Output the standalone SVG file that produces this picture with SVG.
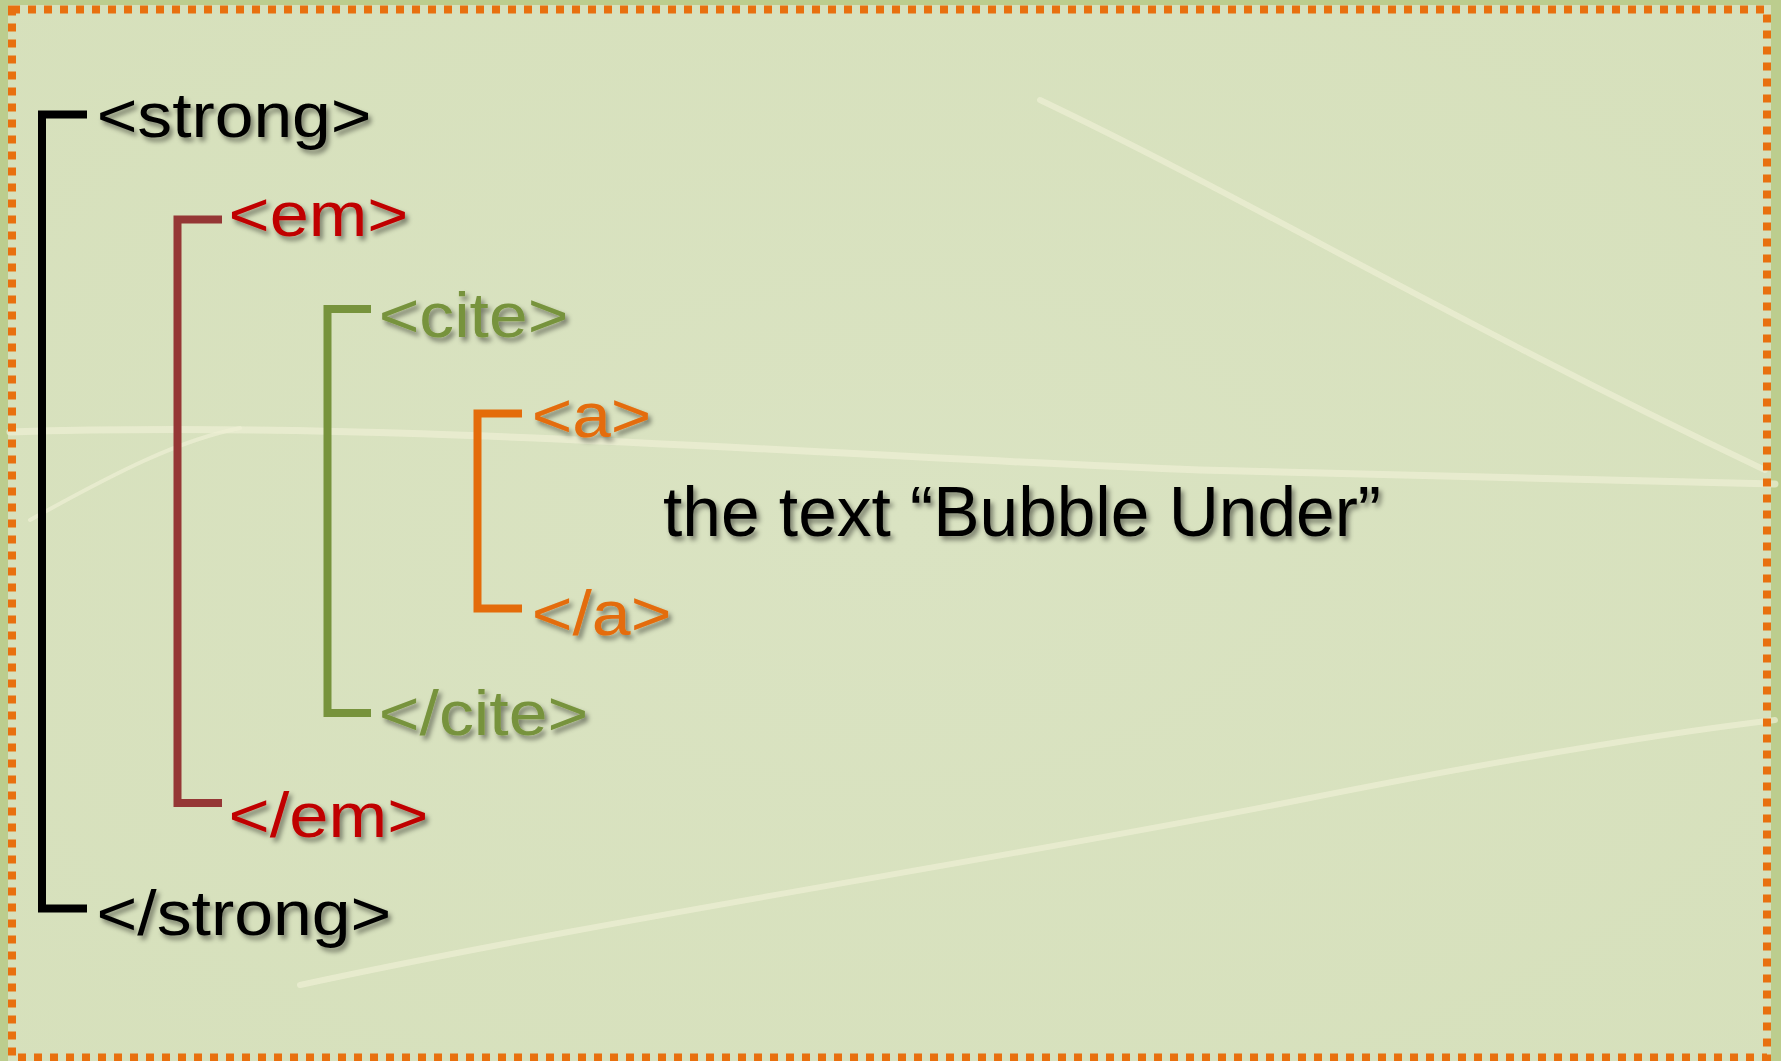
<svg xmlns="http://www.w3.org/2000/svg" width="1781" height="1061" viewBox="0 0 1781 1061">
<defs>
<filter id="sh" x="-10%" y="-30%" width="130%" height="170%">
<feDropShadow dx="3" dy="4" stdDeviation="2.5" flood-color="#000" flood-opacity="0.45"/>
</filter>
<radialGradient id="bg" cx="0.5" cy="0.5" r="0.75">
<stop offset="0" stop-color="#dae3c2"/>
<stop offset="1" stop-color="#d6e0bb"/>
</radialGradient>
</defs>
<style>
.t{font-family:"Liberation Sans",Arial,sans-serif;font-size:63px;filter:url(#sh)}
.vein{fill:none;stroke:#eef0d4;stroke-linecap:round;opacity:0.7}
.br{fill:none;stroke-width:8;stroke-linejoin:miter;stroke-linecap:butt}
</style>
<rect x="0" y="0" width="1781" height="1061" fill="#bccd8e"/>
<rect x="8" y="5" width="1763" height="1056" fill="url(#bg)"/>
<g id="veins">
<path class="vein" stroke-width="7" d="M10,432 C400,420 800,455 1200,470 C1500,478 1700,482 1775,484"/>
<path class="vein" stroke-width="6" d="M1040,100 C1250,200 1450,320 1765,470"/>
<path class="vein" stroke-width="6" d="M300,985 C600,920 1000,860 1300,800 C1500,760 1650,735 1775,720"/>
<path class="vein" stroke-width="4" d="M30,520 C120,470 180,440 240,428"/>
</g>
<rect x="12" y="9.5" width="1755" height="1048" fill="none" stroke="#e8700f" stroke-width="8" stroke-dasharray="8 8"/>
<g id="connectors">
<path class="br" stroke="#000000" d="M87,114.5 H42 V908.5 H87"/>
<path class="br" stroke="#953735" d="M222,219.5 H177.5 V803 H222"/>
<path class="br" stroke="#77933c" d="M371,309 H327.5 V713 H371"/>
<path class="br" stroke="#e46c0a" d="M522,413.5 H477.5 V608.5 H522"/>
</g>
<g id="strong-open"><text class="t" x="96.7" y="137" textLength="274.8" lengthAdjust="spacingAndGlyphs" fill="#000">&lt;strong&gt;</text></g>
<g id="em-open"><text class="t" x="228.6" y="236" textLength="179.8" lengthAdjust="spacingAndGlyphs" fill="#c00000">&lt;em&gt;</text></g>
<g id="cite-open"><text class="t" x="378.7" y="337" textLength="189.6" lengthAdjust="spacingAndGlyphs" fill="#77933c">&lt;cite&gt;</text></g>
<g id="a-open"><text class="t" x="531.7" y="437" textLength="119.6" lengthAdjust="spacingAndGlyphs" fill="#e46c0a">&lt;a&gt;</text></g>
<g id="content"><text class="t" x="663" y="536" style="font-size:70px" textLength="718" lengthAdjust="spacingAndGlyphs" fill="#000">the text “Bubble Under”</text></g>
<g id="a-close"><text class="t" x="531.7" y="635" textLength="139.7" lengthAdjust="spacingAndGlyphs" fill="#e46c0a">&lt;/a&gt;</text></g>
<g id="cite-close"><text class="t" x="378.7" y="735" textLength="209.7" lengthAdjust="spacingAndGlyphs" fill="#77933c">&lt;/cite&gt;</text></g>
<g id="em-close"><text class="t" x="228.6" y="837" textLength="199.7" lengthAdjust="spacingAndGlyphs" fill="#c00000">&lt;/em&gt;</text></g>
<g id="strong-close"><text class="t" x="96.6" y="935" textLength="294.7" lengthAdjust="spacingAndGlyphs" fill="#000">&lt;/strong&gt;</text></g>
</svg>
